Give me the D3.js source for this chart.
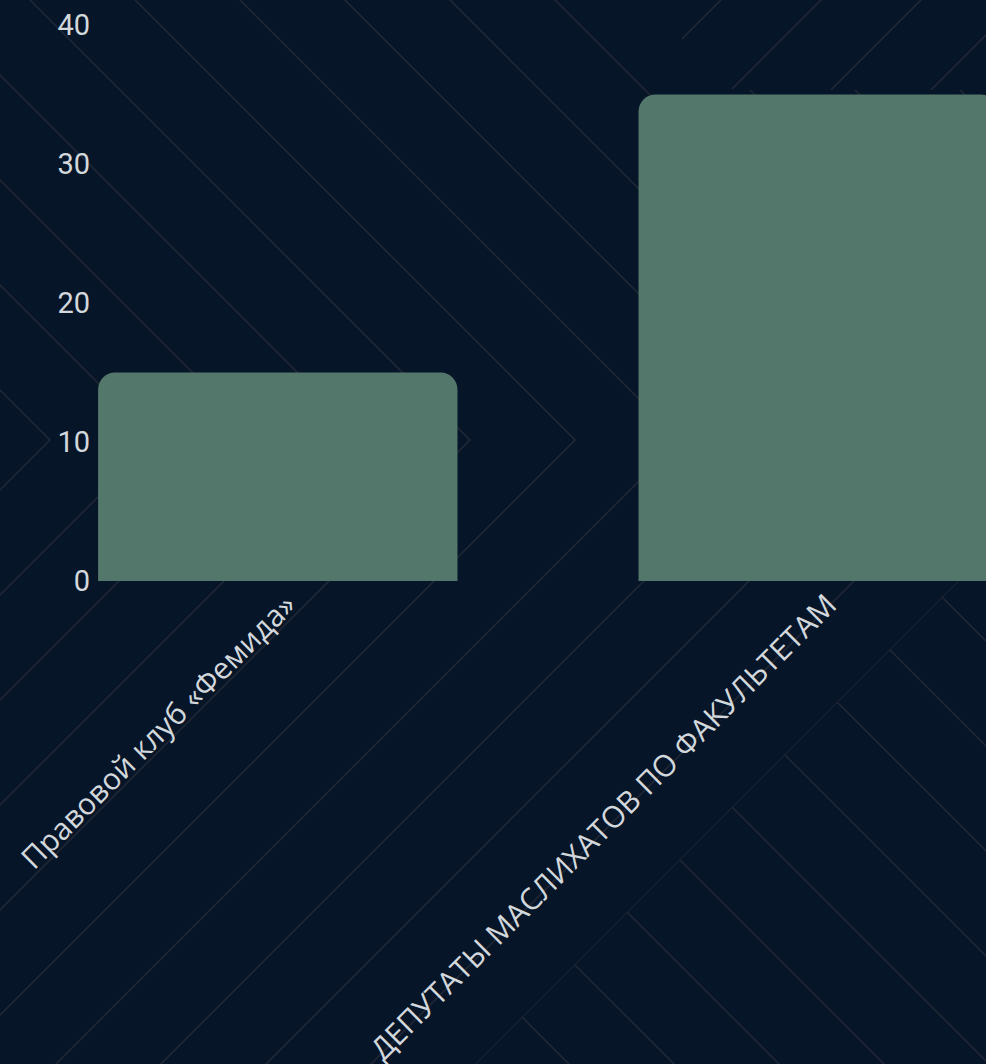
<!DOCTYPE html>
<html>
<head>
<meta charset="utf-8">
<script src="https://cdn.jsdelivr.net/npm/d3@7"></script>
<style>
  html, body { margin: 0; padding: 0; background: #061528; overflow: hidden; }
  svg { display: block; }
</style>
</head>
<body>
<div id="chart"></div>
<script>
// chart data
let categories = ["Правовой клуб «Фемида»", "ДЕПУТАТЫ МАСЛИХАТОВ ПО ФАКУЛЬТЕТАМ"];
let values = [15, 35];
let yTicks = [0, 10, 20, 30, 40];

let svgWidth = 986;
let svgHeight = 1064;

let svg = d3.select("#chart")
  .append("svg")
  .attr("width", svgWidth)
  .attr("height", svgHeight);

svg.append("rect")
  .attr("width", svgWidth)
  .attr("height", svgHeight)
  .attr("fill", "#061528");

// Background parquet lines (decoration only)
let defs = svg.append("defs");
let zones = [
  { id: "zA", pts: [[0,0],[643,0],[733,90],[1000,90],[1000,440],[0,440]], dir: -1, base: 30, step: 105 },
  { id: "zD", pts: [[643,0],[1000,0],[1000,90],[733,90]], dir: 1, base: 821, step: 100 },
  { id: "zB", pts: [[0,440],[1100,440],[0,1540]], dir: 1, base: 910, step: 105 },
  { id: "zC", pts: [[1100,440],[1100,1100],[440,1100]], dir: -1, base: 30, step: 105 }
];
let bg = svg.append("g").attr("class", "bg-lines");
zones.forEach(z => {
  defs.append("clipPath").attr("id", z.id)
    .append("polygon").attr("points", z.pts.map(p => p.join(",")).join(" "));
  let offs = d3.range(-20, 21).map(k => z.base + k * z.step);
  bg.append("g").attr("clip-path", `url(#${z.id})`)
    .selectAll("line")
    .data(offs)
    .enter()
    .append("line")
    .attr("x1", c => z.dir < 0 ? c - 200 : c + 200)
    .attr("y1", -200)
    .attr("x2", c => z.dir < 0 ? c + 1300 : c - 1300)
    .attr("y2", 1300)
    .attr("stroke", "#1e2634")
    .attr("stroke-width", 1.8);
});

// Scales
let xBandScale = d3.scaleBand()
  .domain(categories)
  .range([8, 1088])
  .paddingInner(0.335)
  .paddingOuter(0.1667);

let yLinearScale = d3.scaleLinear()
  .domain([0, 40])
  .range([581, 25]);

// Bars with rounded top corners
function roundedTop(x, y, w, h, r) {
  return `M${x},${y + h}V${y + r}A${r},${r} 0 0 1 ${x + r},${y}H${x + w - r}A${r},${r} 0 0 1 ${x + w},${y + r}V${y + h}Z`;
}

svg.append("g")
  .selectAll("path")
  .data(values)
  .enter()
  .append("path")
  .attr("fill", "#53776a")
  .attr("d", (d, i) => {
    let x0 = xBandScale(categories[i]);
    let y0 = yLinearScale(d);
    return roundedTop(x0, y0, xBandScale.bandwidth(), yLinearScale(0) - y0, 17);
  });

// Y axis
let leftAxis = d3.axisLeft(yLinearScale)
  .tickValues(yTicks)
  .tickSize(0)
  .tickPadding(8);

let yAxisG = svg.append("g")
  .attr("transform", `translate(${xBandScale(categories[0])}, 0)`)
  .call(leftAxis);
yAxisG.select(".domain").remove();
yAxisG.selectAll("text")
  .attr("fill", "#d3d8dc")
  .style("font-family", "Roboto, sans-serif")
  .style("font-size", "29px");

// X axis
let bottomAxis = d3.axisBottom(xBandScale).tickSize(0);

let xAxisG = svg.append("g")
  .attr("transform", `translate(0, ${yLinearScale(0)})`)
  .call(bottomAxis);
xAxisG.select(".domain").remove();
xAxisG.selectAll("text")
  .attr("x", 0)
  .attr("y", 0)
  .attr("dy", 0)
  .attr("transform", "translate(20, 26) rotate(-45)")
  .style("text-anchor", "end")
  .attr("fill", "#d3d8dc")
  .style("font-family", "'Open Sans', sans-serif")
  .style("font-size", "30px");
</script>
</body>
</html>
